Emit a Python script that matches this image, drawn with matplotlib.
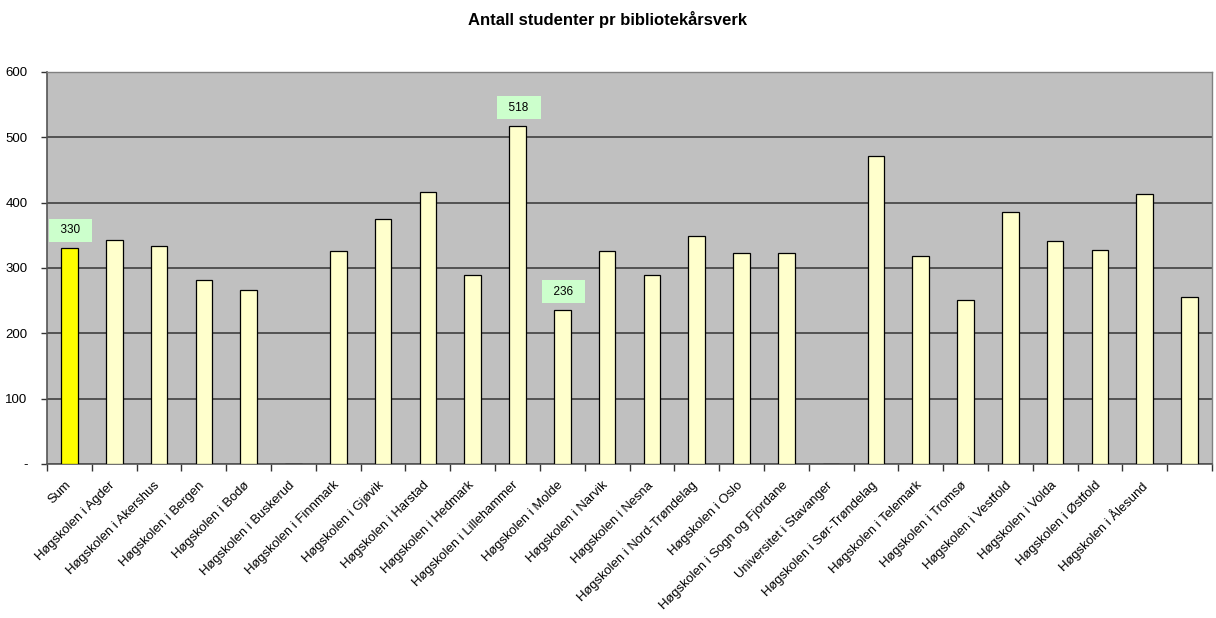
import numpy as np
import matplotlib
matplotlib.use("Agg")
import matplotlib.pyplot as plt
import matplotlib.transforms as mtransforms

plt.rcParams['font.family'] = ['Liberation Sans', 'DejaVu Sans']

title = "Antall studenter pr bibliotekårsverk"
categories = [
    "Sum", "Høgskolen i Agder", "Høgskolen i Akershus", "Høgskolen i Bergen",
    "Høgskolen i Bodø", "Høgskolen i Buskerud", "Høgskolen i Finnmark",
    "Høgskolen i Gjøvik", "Høgskolen i Harstad", "Høgskolen i Hedmark",
    "Høgskolen i Lillehammer", "Høgskolen i Molde", "Høgskolen i Narvik",
    "Høgskolen i Nesna", "Høgskolen i Nord-Trøndelag", "Høgskolen i Oslo",
    "Høgskolen i Sogn og Fjordane", "Universitet i Stavanger",
    "Høgskolen i Sør-Trøndelag", "Høgskolen i Telemark", "Høgskolen i Tromsø",
    "Høgskolen i Vestfold", "Høgskolen i Volda", "Høgskolen i Østfold",
    "Høgskolen i Ålesund", "",
]
values = [330, 343, 334, 282, 267, np.nan, 326, 375, 416, 289, 518, 236, 326,
          289, 349, 323, 323, np.nan, 471, 318, 251, 385, 342, 328, 414, 255]
labelled = ["Sum", "Høgskolen i Lillehammer", "Høgskolen i Molde"]
yticks = [0, 100, 200, 300, 400, 500, 600]
ytick_labels = ["-", "100", "200", "300", "400", "500", "600"]

fig = plt.figure(figsize=(12.16, 6.18), dpi=100)
ax = fig.add_axes([47/1216, 1 - 464/618, (1212-47)/1216, (464-72)/618])
ax.set_facecolor("#C0C0C0")

x = np.arange(len(categories))
colors = ["#FFFF00" if c == "Sum" else "#FFFFCC" for c in categories]
vals = np.array(values, dtype=float)
ax.bar(x, np.nan_to_num(vals), width=0.37, color=colors, edgecolor="#000000",
       linewidth=0.9, zorder=3)

for i, c in enumerate(categories):
    if c in labelled:
        ax.annotate(f"  {int(vals[i])}  ", (x[i], vals[i]), xytext=(1, 13),
                    textcoords="offset points", ha="center", va="center",
                    fontsize=8.5, zorder=5,
                    bbox=dict(boxstyle="square,pad=0.45", fc="#CCFFCC", ec="none"))

ax.set_xlim(-0.5, len(categories) - 0.5)
ax.set_ylim(0, 600)
ax.set_yticks(yticks)
ax.set_yticklabels(ytick_labels, fontsize=9.5)
ax.yaxis.grid(True, color="#4A4A4A", linewidth=1.3, zorder=1)
ax.set_axisbelow(True)

ax.set_xticks(x)
ax.set_xticklabels(categories, rotation=45, ha="right", rotation_mode="anchor",
                   fontsize=9.4)
ax.tick_params(axis="x", which="major", length=0, pad=11)
shift = mtransforms.ScaledTranslation(-5/100, 0, fig.dpi_scale_trans)
for lbl in ax.get_xticklabels():
    lbl.set_transform(lbl.get_transform() + shift)
ax.set_xticks(np.arange(-0.5, len(categories), 1.0), minor=True)
ax.tick_params(axis="x", which="minor", length=5, color="#333333", width=1)
ax.tick_params(axis="y", length=4, color="#333333", width=1, pad=10)

for s in ["left", "bottom"]:
    ax.spines[s].set_color("#555555")
    ax.spines[s].set_linewidth(1.2)
for s in ["top", "right"]:
    ax.spines[s].set_color("#808080")
    ax.spines[s].set_linewidth(1.0)

fig.text(607/1216, 1 - 20/618, title, ha="center", va="center",
         fontsize=12, fontweight="bold")

fig.savefig("out.png", dpi=100, facecolor="white")
